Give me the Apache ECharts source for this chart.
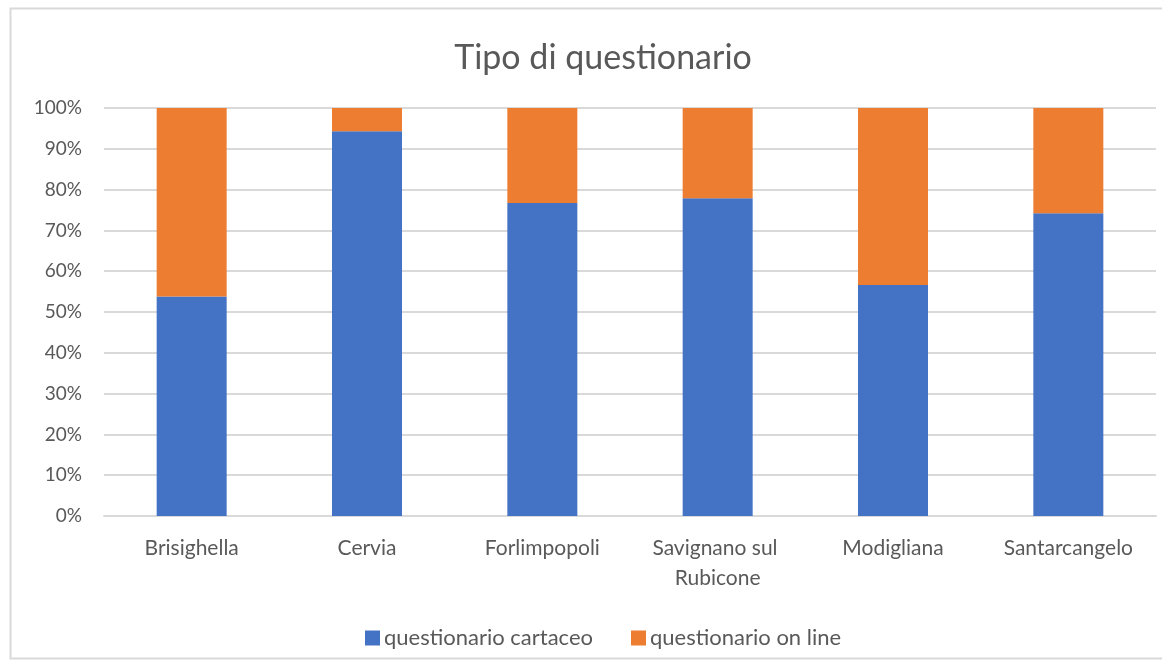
<!DOCTYPE html>
<html>
<head>
<meta charset="utf-8">
<title>Tipo di questionario</title>
<script src="https://cdn.jsdelivr.net/npm/echarts@6/dist/echarts.min.js"></script>
<style>
  html, body { margin: 0; padding: 0; background: #ffffff; }
  #chart { width: 1162px; height: 663px; }
</style>
</head>
<body>
<div id="chart"></div>
<script>
// Comuni and share of each questionnaire type (percent)
const comuni = ['Brisighella', 'Cervia', 'Forlimpopoli', 'Savignano sul Rubicone', 'Modigliana', 'Santarcangelo'];
const cartaceo = [53.8, 94.3, 76.7, 77.9, 56.6, 74.2];
const online = [46.2, 5.7, 23.3, 22.1, 43.4, 25.8];
const seriesNames = ['questionario cartaceo', 'questionario on line'];
const yTicks = { min: 0, max: 100, step: 10 };

const FONT = 'Lato, "Open Sans", sans-serif';
const TEXT = '#595959';
const GRID_LINE = '#D9D9D9';

const chart = echarts.init(document.getElementById('chart'), null, { renderer: 'canvas' });

chart.setOption({
  backgroundColor: '#ffffff',
  animation: false,
  graphic: [{
    type: 'rect',
    shape: { x: 10.5, y: 8.5, width: 1200, height: 650 },
    style: { fill: 'none', stroke: GRID_LINE, lineWidth: 2 },
    silent: true,
    z: -10
  }],
  title: {
    text: 'Tipo di questionario',
    left: 598,
    textAlign: 'center',
    top: 36,
    textStyle: { fontFamily: FONT, fontSize: 34, fontWeight: 'normal', color: TEXT }
  },
  legend: {
    left: 360,
    top: 622,
    itemWidth: 15,
    itemHeight: 15,
    itemGap: 38,
    icon: 'rect',
    textStyle: { fontFamily: FONT, fontSize: 22, color: TEXT, padding: [0, 0, 0, -1] },
    data: seriesNames
  },
  grid: { left: 104, right: 6, top: 108, bottom: 147 },
  xAxis: {
    type: 'category',
    data: comuni,
    axisLine: { lineStyle: { color: GRID_LINE, width: 2 } },
    axisTick: { show: false },
    axisLabel: {
      interval: 0,
      margin: 17,
      width: 165,
      overflow: 'break',
      lineHeight: 30,
      fontFamily: FONT,
      fontSize: 21,
      color: TEXT
    }
  },
  yAxis: {
    type: 'value',
    min: yTicks.min,
    max: yTicks.max,
    interval: yTicks.step,
    axisLine: { show: false },
    axisTick: { show: false },
    splitLine: { lineStyle: { color: GRID_LINE, width: 2 } },
    axisLabel: {
      margin: 22,
      formatter: '{value}%',
      fontFamily: FONT,
      fontSize: 19,
      color: TEXT
    }
  },
  series: [
    {
      name: seriesNames[0],
      type: 'bar',
      stack: 'tipo',
      barWidth: 70,
      itemStyle: { color: '#4472C4' },
      data: cartaceo
    },
    {
      name: seriesNames[1],
      type: 'bar',
      stack: 'tipo',
      barWidth: 70,
      itemStyle: { color: '#ED7D31' },
      data: online
    }
  ]
});
</script>
</body>
</html>
